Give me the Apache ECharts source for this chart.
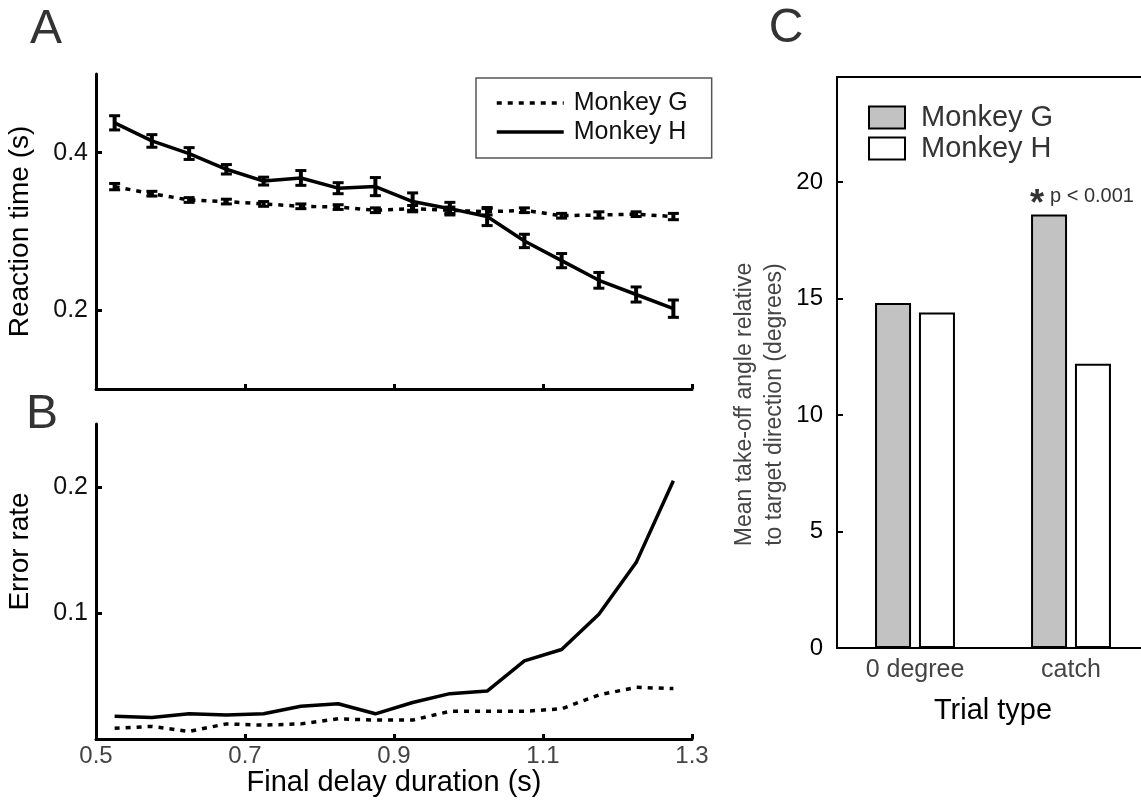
<!DOCTYPE html>
<html>
<head>
<meta charset="utf-8">
<title>Reaction time, error rate and take-off angle</title>
<script src="https://cdn.jsdelivr.net/npm/echarts@6/dist/echarts.min.js"></script>
<style>
html, body { margin: 0; padding: 0; background: #fff; }
#main { width: 1141px; height: 803px; }
</style>
</head>
<body>
<div id="main"></div>
<script>
// final delay durations (s), shared by panels A and B
var delays = [0.525, 0.575, 0.625, 0.675, 0.725, 0.775, 0.825, 0.875, 0.925, 0.975, 1.025, 1.075, 1.125, 1.175, 1.225, 1.275];

// A: reaction time (s) with error bars
var rtG    = [0.357, 0.348, 0.340, 0.338, 0.335, 0.332, 0.331, 0.327, 0.329, 0.327, 0.325, 0.327, 0.320, 0.321, 0.322, 0.319];
var rtGErr = [0.004, 0.003, 0.003, 0.003, 0.003, 0.003, 0.003, 0.003, 0.004, 0.004, 0.004, 0.003, 0.003, 0.004, 0.003, 0.004];
var rtH    = [0.438, 0.415, 0.399, 0.379, 0.364, 0.368, 0.355, 0.357, 0.338, 0.329, 0.319, 0.288, 0.263, 0.238, 0.220, 0.202];
var rtHErr = [0.009, 0.008, 0.0075, 0.006, 0.005, 0.0094, 0.007, 0.0115, 0.011, 0.008, 0.0115, 0.0085, 0.009, 0.010, 0.0096, 0.011];

// B: error rate
var errRateG = [0.0085, 0.010, 0.006, 0.012, 0.011, 0.012, 0.016, 0.015, 0.015, 0.022, 0.022, 0.022, 0.024, 0.035, 0.041, 0.040];
var errRateH = [0.018, 0.017, 0.020, 0.019, 0.020, 0.026, 0.028, 0.020, 0.029, 0.036, 0.038, 0.062, 0.071, 0.099, 0.140, 0.205];

// C: mean take-off angle (degrees)
var trialTypes = ['0 degree', 'catch'];
var angleG = [14.8, 18.6];
var angleH = [14.4, 12.2];

// tick values
var rtTicks = [0.2, 0.4];
var errTicks = [0.1, 0.2];
var angleTicks = [0, 5, 10, 15, 20];

var FONT = '"Liberation Sans", Arial, Helvetica, sans-serif';

function pairs(xs, ys) {
	return xs.map(function(x, i) { return [x, ys[i]]; });
}

function errorBars(name, vals, errs) {
	var data = delays.map(function(d, i) { return [d, vals[i] - errs[i], vals[i] + errs[i]]; });
	return {
		name: name,
		type: 'custom',
		xAxisIndex: 0,
		yAxisIndex: 0,
		z: 5,
		silent: true,
		encode: { x: 0, y: [1, 2] },
		data: data,
		renderItem: function(params, api) {
			var lo = api.coord([api.value(0), api.value(1)]);
			var hi = api.coord([api.value(0), api.value(2)]);
			var w = 5.5;
			return {
				type: 'group',
				children: [
					{ type: 'line', shape: { x1: lo[0], y1: lo[1], x2: hi[0], y2: hi[1] }, style: { stroke: '#000', lineWidth: 4 } },
					{ type: 'line', shape: { x1: lo[0] - w, y1: lo[1], x2: lo[0] + w, y2: lo[1] }, style: { stroke: '#000', lineWidth: 3 } },
					{ type: 'line', shape: { x1: hi[0] - w, y1: hi[1], x2: hi[0] + w, y2: hi[1] }, style: { stroke: '#000', lineWidth: 3 } }
				]
			};
		}
	};
}

var dotted = { color: '#000', width: 3.5, type: [5, 6] };
var solid = { color: '#000', width: 3.5, type: 'solid' };
var blackAxis = { lineStyle: { color: '#000', width: 3 } };

var legendNames = { barG: 'Monkey G', barH: 'Monkey H' };

var chart = echarts.init(document.getElementById('main'), null, { renderer: 'canvas' });

var option = {
	animation: false,
	backgroundColor: '#fff',
	textStyle: { fontFamily: FONT },
	grid: [
		{ left: 96, top: 74, width: 596, height: 315, outerBoundsMode: 'none' },
		{ left: 96, top: 424, width: 596, height: 315, outerBoundsMode: 'none' },
		{ left: 837, top: 77, width: 312, height: 571, outerBoundsMode: 'none' }
	],
	legend: [
		{
			orient: 'vertical',
			left: 476,
			top: 78,
			data: ['Monkey G', 'Monkey H'],
			itemWidth: 67,
			itemHeight: 14,
			itemGap: 0,
			padding: [10.5, 24, 11.5, 19],
			borderColor: '#555',
			borderWidth: 1.5,
			selectedMode: false,
			itemStyle: { opacity: 0 },
			lineStyle: { width: 3.5 },
			textStyle: { fontSize: 25, color: '#111', lineHeight: 29, padding: [0, 0, 0, 5], fontFamily: FONT }
		},
		{
			orient: 'vertical',
			left: 868,
			top: 102,
			data: ['barG', 'barH'],
			formatter: function(name) { return legendNames[name]; },
			icon: 'rect',
			itemWidth: 36,
			itemHeight: 22,
			itemGap: 0,
			padding: 0,
			selectedMode: false,
			textStyle: { fontSize: 29, color: '#333', lineHeight: 31, padding: [0, 0, 0, 11], fontFamily: FONT }
		}
	],
	xAxis: [
		{
			gridIndex: 0, type: 'value', min: 0.5, max: 1.3, interval: 0.2,
			axisLine: blackAxis,
			axisTick: { inside: true, length: 5, lineStyle: { color: '#000', width: 3 } },
			axisLabel: { show: false },
			splitLine: { show: false }
		},
		{
			gridIndex: 1, type: 'value', min: 0.5, max: 1.3, interval: 0.2,
			axisLine: blackAxis,
			axisTick: { inside: true, length: 5, lineStyle: { color: '#000', width: 3 } },
			axisLabel: { fontSize: 24, color: '#444', margin: 5, formatter: function(v) { return v.toFixed(1); } },
			splitLine: { show: false },
			name: 'Final delay duration (s)',
			nameLocation: 'middle',
			nameGap: 28,
			nameTextStyle: { fontSize: 29, color: '#000' }
		},
		{
			gridIndex: 2, type: 'category', data: trialTypes,
			axisLine: { lineStyle: { color: '#000', width: 2 } },
			axisTick: { show: false },
			axisLabel: { fontSize: 25, color: '#444', margin: 10 },
			name: 'Trial type',
			nameLocation: 'middle',
			nameGap: 48,
			nameTextStyle: { fontSize: 29, color: '#000' }
		},
		{
			gridIndex: 2, type: 'value', position: 'top', min: 0, max: 1,
			axisLine: { show: true, lineStyle: { color: '#000', width: 2 } },
			axisTick: { show: false },
			axisLabel: { show: false },
			splitLine: { show: false }
		}
	],
	yAxis: [
		{
			gridIndex: 0, type: 'value', min: 0.1, max: 0.5,
			axisLine: { show: true, lineStyle: { color: '#000', width: 3 } },
			axisTick: { show: true, inside: true, length: 6, customValues: rtTicks, lineStyle: { color: '#000', width: 3 } },
			axisLabel: { customValues: rtTicks, fontSize: 25, color: '#111', margin: 8, formatter: function(v) { return v.toFixed(1); } },
			splitLine: { show: false },
			name: 'Reaction time (s)',
			nameLocation: 'middle',
			nameGap: 62,
			nameTextStyle: { fontSize: 28, color: '#000' }
		},
		{
			gridIndex: 1, type: 'value', min: 0, max: 0.25,
			axisLine: { show: true, lineStyle: { color: '#000', width: 3 } },
			axisTick: { show: true, inside: true, length: 6, customValues: errTicks, lineStyle: { color: '#000', width: 3 } },
			axisLabel: { customValues: errTicks, fontSize: 25, color: '#111', margin: 8, formatter: function(v) { return v.toFixed(1); } },
			splitLine: { show: false },
			name: 'Error rate',
			nameLocation: 'middle',
			nameGap: 62,
			nameTextStyle: { fontSize: 28, color: '#000', padding: [0, 0, 0, 60] }
		},
		{
			gridIndex: 2, type: 'value', min: 0, max: 24.5,
			axisLine: { show: true, lineStyle: { color: '#000', width: 2 } },
			axisTick: { show: true, inside: true, length: 6, customValues: angleTicks, lineStyle: { color: '#000', width: 2 } },
			axisLabel: { customValues: angleTicks, fontSize: 24, color: '#000', margin: 14 },
			splitLine: { show: false },
			name: 'Mean take-off angle relative\nto target direction (degrees)',
			nameLocation: 'middle',
			nameGap: 47,
			nameTextStyle: { fontSize: 23, color: '#444', lineHeight: 30, padding: [0, 84, 0, 0] }
		}
	],
	series: [
		{ name: 'Monkey G', type: 'line', xAxisIndex: 0, yAxisIndex: 0, data: pairs(delays, rtG), symbol: 'none', lineStyle: dotted, z: 3 },
		{ name: 'Monkey H', type: 'line', xAxisIndex: 0, yAxisIndex: 0, data: pairs(delays, rtH), symbol: 'none', lineStyle: solid, z: 3 },
		errorBars('errG', rtG, rtGErr),
		errorBars('errH', rtH, rtHErr),
		{ name: 'Monkey G', type: 'line', xAxisIndex: 1, yAxisIndex: 1, data: pairs(delays, errRateG), symbol: 'none', lineStyle: dotted },
		{ name: 'Monkey H', type: 'line', xAxisIndex: 1, yAxisIndex: 1, data: pairs(delays, errRateH), symbol: 'none', lineStyle: solid },
		{
			name: 'barG', type: 'bar', xAxisIndex: 2, yAxisIndex: 2, data: angleG,
			barWidth: 36, barGap: '22%',
			itemStyle: { color: '#c1c2c1', borderColor: '#000', borderWidth: 2 }
		},
		{
			name: 'barH', type: 'bar', xAxisIndex: 2, yAxisIndex: 2, data: angleH,
			barWidth: 36, barGap: '22%',
			itemStyle: { color: '#fff', borderColor: '#000', borderWidth: 2 }
		}
	],
	graphic: [
		{ type: 'text', x: 46, y: 30, style: { text: 'A', fontSize: 48, fill: '#333', align: 'center', verticalAlign: 'middle', fontFamily: FONT } },
		{ type: 'text', x: 42, y: 415, style: { text: 'B', fontSize: 48, fill: '#333', align: 'center', verticalAlign: 'middle', fontFamily: FONT } },
		{ type: 'text', x: 786, y: 29, style: { text: 'C', fontSize: 48, fill: '#333', align: 'center', verticalAlign: 'middle', fontFamily: FONT } },
		{ type: 'text', x: 1030, y: 205, style: { text: '*', fontSize: 36, fontWeight: 'bold', fill: '#333', align: 'left', verticalAlign: 'middle', fontFamily: FONT } },
		{ type: 'text', x: 1050, y: 196, style: { text: 'p < 0.001', fontSize: 20, fill: '#333', align: 'left', verticalAlign: 'middle', fontFamily: FONT } }
	]
};

chart.setOption(option);
</script>
</body>
</html>
